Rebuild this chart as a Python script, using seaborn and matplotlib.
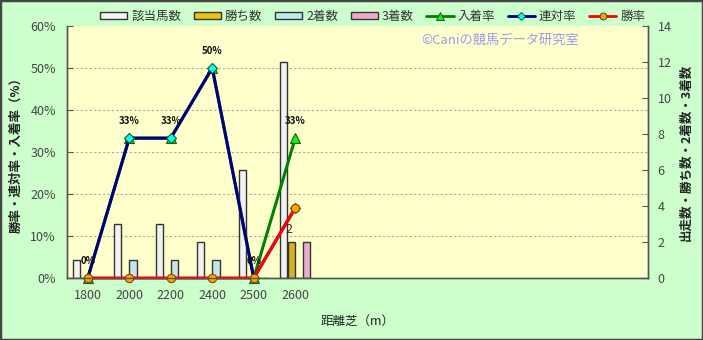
import numpy as np
import pandas as pd
import matplotlib
matplotlib.use("Agg")
import matplotlib.pyplot as plt
import seaborn as sns
from matplotlib.patches import Patch, Rectangle
from matplotlib.lines import Line2D
from matplotlib.ticker import MultipleLocator, FixedLocator, PercentFormatter

sns.set_style("white")
plt.rcParams['font.family'] = ['Noto Sans CJK JP', 'DejaVu Sans']

# ---- data ----
categories = ['1800', '2000', '2200', '2400', '2500', '2600']
runners = [1, 3, 3, 2, 6, 12]
wins = [0, 0, 0, 0, 0, 2]
seconds = [0, 1, 1, 1, 0, 0]
thirds = [0, 0, 0, 0, 0, 2]
win_rate = [0, 0, 0, 0, 0, 16.7]
rentai_rate = [0, 33.3, 33.3, 50, 0, 16.7]
nyuchaku_rate = [0, 33.3, 33.3, 50, 0, 33.3]
n_slots = 14

bar_names = ['該当馬数', '勝ち数', '2着数', '3着数']
bar_colors = ['#F2F2F2', '#F5C400', '#BDEBF2', '#F2A6CC']

df = pd.DataFrame({
    'cat': categories * 4,
    'series': sum([[n] * len(categories) for n in bar_names], []),
    'count': runners + wins + seconds + thirds,
})

fig = plt.figure(figsize=(7.03, 3.40), dpi=100, facecolor='#CCFFCC')
ax = fig.add_axes([67 / 703, 1 - 278 / 340, (648 - 67) / 703, (278 - 26) / 340])
ax2 = ax.twinx()

# bars on the right (count) axis
sns.barplot(data=df, x='cat', y='count', hue='series', hue_order=bar_names,
            order=categories, palette=bar_colors, width=0.74, gap=0.06,
            edgecolor='#333333', linewidth=1.0, ax=ax2, legend=False)

# lines on the left (percent) axis
pos = np.arange(len(categories))
lines_spec = [
    ('入着率', nyuchaku_rate, '#008000', '^', '#00FF00', 7),
    ('連対率', rentai_rate, '#000080', 'D', '#00FFFF', 5),
    ('勝率', win_rate, '#FF0000', 'o', '#FFA500', 6),
]
for name, vals, lc, mk, mfc, ms in lines_spec:
    sns.lineplot(x=pos, y=vals, color=lc, lw=2.2, marker=mk, markersize=ms,
                 markerfacecolor=mfc, markeredgecolor='#225522' if mk != 'o' else '#884400',
                 markeredgewidth=0.8, ax=ax, legend=False, clip_on=False)

# layering
ax.set_zorder(ax2.get_zorder() + 1)
ax.patch.set_visible(False)
ax2.patch.set_visible(True)
ax2.patch.set_facecolor('#FFFFCC')

ax.set_xlim(-0.5, n_slots - 0.5)
ax.set_ylim(0, 60)
ax2.set_ylim(0, 14)

ax.xaxis.set_major_locator(FixedLocator(pos))
ax.set_xticklabels(categories)
ax.xaxis.set_minor_locator(FixedLocator(np.arange(0.5, n_slots - 0.5, 1)))
ax.yaxis.set_major_locator(MultipleLocator(10))
ax.yaxis.set_major_formatter(PercentFormatter(decimals=0))
ax2.yaxis.set_major_locator(MultipleLocator(2))
# grid rows follow the percent axis (every 10%)
ax2.yaxis.set_minor_locator(FixedLocator(np.arange(1, 6) * 14 / 6))

# grid on lower axes
ax2.set_axisbelow(True)
ax2.yaxis.grid(True, which='minor', color='#AAAAAA', linestyle=(0, (2, 2)), lw=0.8)
ax2.yaxis.grid(False, which='major')
ax2.xaxis.grid(True, which='minor', color='#AAAAAA', linestyle=(0, (2, 2)), lw=0.8)
ax2.xaxis.grid(False, which='major')
ax.grid(False)

tc = '#444444'
for a in (ax, ax2):
    for s in a.spines.values():
        s.set_color('#555555')
        s.set_linewidth(1.0)
    a.spines['top'].set_visible(False)
ax.tick_params(axis='y', direction='in', length=4, color='#555555', labelcolor=tc, labelsize=9, pad=8)
ax2.tick_params(axis='y', which='major', direction='in', length=4, color='#555555', labelcolor=tc, labelsize=9, pad=7)
ax2.tick_params(axis='y', which='minor', length=0)
ax.tick_params(axis='x', which='major', length=0, labelcolor=tc, labelsize=9, pad=8)
ax.tick_params(axis='x', which='minor', length=0)

ax.set_xlabel('距離芝（m）', fontsize=9, color='#222222', labelpad=9)
ax2.set_xlabel('')
ax.set_ylabel('勝率・連対率・入着率（%）', fontsize=9, fontweight='bold', color='#222222')
ax.yaxis.set_label_coords(-0.076, 0.5)
ax2.set_ylabel('出走数・勝ち数・2着数・3着数', fontsize=9, fontweight='bold', color='#222222',
               rotation=90)
ax2.yaxis.set_label_coords(1.055, 0.5)

# labels for 入着率
for x, v in zip(pos, nyuchaku_rate):
    ax.annotate(f'{v:.0f}%', (x, v), xytext=(0, 12), textcoords='offset points',
                ha='center', va='center', fontsize=7, fontweight='bold', color='#111111')
# labels for 勝ち数 bars
win_bar_offset = -0.74 / 2 + 0.74 / 4 * 1.5
for x, v in zip(pos, wins):
    if v > 0:
        ax2.annotate(f'{v}', (x + win_bar_offset, v), xytext=(-2, 9), textcoords='offset points',
                     ha='center', va='center', fontsize=9, color='#333333')

# watermark
ax.text(0.745, 0.945, '©Caniの競馬データ研究室', transform=ax.transAxes, ha='center', va='center',
        fontsize=9.5, color='#9A9AF0')

# legend
handles = [Patch(facecolor=c, edgecolor='#333333', lw=1.0) for c in bar_colors]
for name, vals, lc, mk, mfc, ms in lines_spec:
    handles.append(Line2D([0], [0], color=lc, lw=2, marker=mk, markersize=ms - 1,
                          markerfacecolor=mfc, markeredgecolor='#333333', markeredgewidth=0.6))
labels = bar_names + [s[0] for s in lines_spec]
fig.legend(handles, labels, loc='center', bbox_to_anchor=(0.53, 0.952), ncol=7,
           frameon=False, fontsize=9, handlelength=2.2, handleheight=0.5,
           columnspacing=1.0, handletextpad=0.3, labelcolor='#333333')

fig.patches.append(Rectangle((0, 0), 1, 1, transform=fig.transFigure, fill=False,
                             edgecolor='#444444', lw=2.5))

fig.savefig('out.png', dpi=100, facecolor=fig.get_facecolor())
